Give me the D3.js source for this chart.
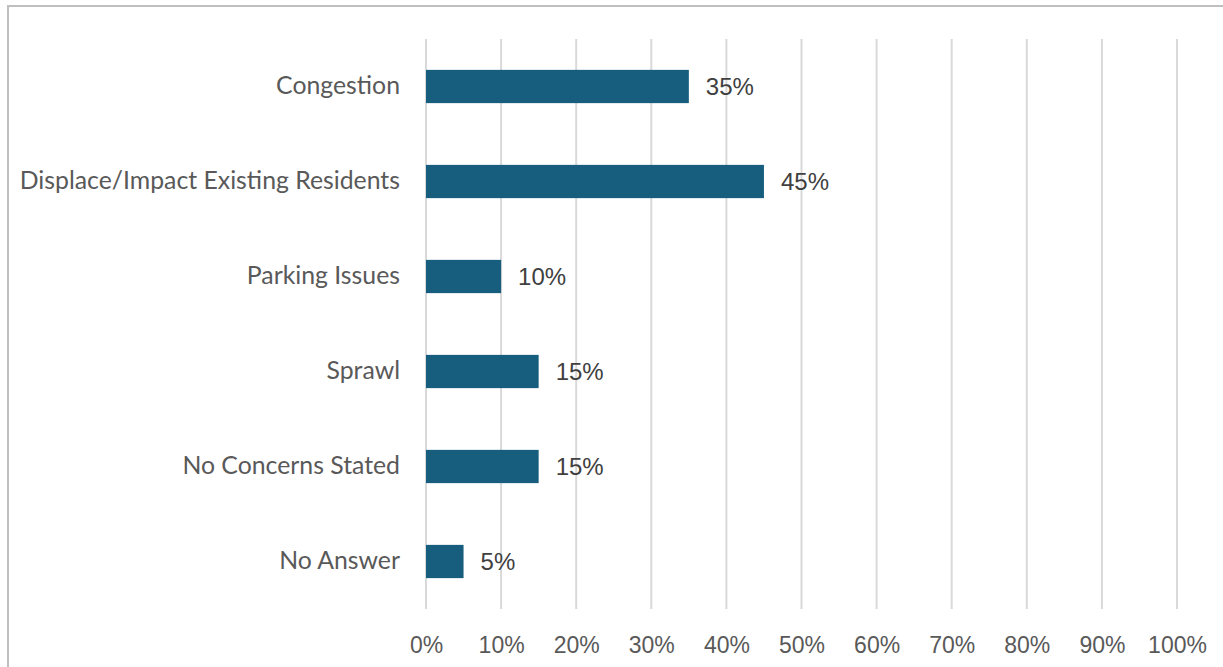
<!DOCTYPE html>
<html>
<head>
<meta charset="utf-8">
<script src="https://cdn.jsdelivr.net/npm/d3@7"></script>
<style>
  body { margin: 0; background: #fff; }
  text { font-family: "Liberation Sans", Arial, sans-serif; }
</style>
</head>
<body>
<svg id="chart" width="1223" height="667"></svg>
<script>
var categories = ["Congestion", "Displace/Impact Existing Residents", "Parking Issues",
                  "Sprawl", "No Concerns Stated", "No Answer"];
var values = [35, 45, 10, 15, 15, 5];
var tickValues = [0, 10, 20, 30, 40, 50, 60, 70, 80, 90, 100];

var svg = d3.select("#chart");

// chart frame (only top and left edge show in the crop)
svg.append("rect")
    .attr("x", 8).attr("y", 6)
    .attr("width", 1240).attr("height", 700)
    .attr("fill", "none")
    .attr("stroke", "#bfbfbf")
    .attr("stroke-width", 2);

var x = d3.scaleLinear().domain([0, 100]).range([426, 1177]);
var y = d3.scaleBand().domain(categories).range([39, 609]).paddingInner(0.65).paddingOuter(0.325);

// gridlines
svg.append("g")
    .selectAll("line")
    .data(tickValues)
    .enter()
    .append("line")
    .attr("x1", function(d) { return x(d); })
    .attr("x2", function(d) { return x(d); })
    .attr("y1", 39)
    .attr("y2", 609)
    .attr("stroke", "#d9d9d9")
    .attr("stroke-width", 2);

// x axis labels
var xAxis = d3.axisBottom(x)
    .tickValues(tickValues)
    .tickSize(0)
    .tickPadding(0)
    .tickFormat(function(d) { return d + "%"; });
var gx = svg.append("g").attr("transform", "translate(0,653)").call(xAxis);
gx.select(".domain").remove();
gx.selectAll("text")
    .attr("dy", 0)
    .attr("y", 0)
    .style("font-family", '"Liberation Sans", Arial, sans-serif')
    .style("font-size", "23px")
    .style("fill", "#595959");

// y axis labels
var yAxis = d3.axisLeft(y).tickSize(0).tickPadding(0);
var gy = svg.append("g").attr("transform", "translate(400,0)").call(yAxis);
gy.select(".domain").remove();
gy.selectAll("text")
    .style("font-family", 'Lato, "Open Sans", sans-serif')
    .style("font-size", "24.8px")
    .style("fill", "#595959");

// bars
svg.append("g")
    .selectAll("rect")
    .data(values)
    .enter()
    .append("rect")
    .attr("x", x(0))
    .attr("y", function(d, i) { return y(categories[i]); })
    .attr("width", function(d) { return x(d) - x(0); })
    .attr("height", y.bandwidth())
    .attr("fill", "#175e7e");

// value labels
svg.append("g")
    .selectAll("text")
    .data(values)
    .enter()
    .append("text")
    .text(function(d) { return d + "%"; })
    .attr("x", function(d) { return x(d) + 17; })
    .attr("y", function(d, i) { return y(categories[i]) + y.bandwidth() / 2; })
    .attr("dy", "0.36em")
    .style("font-size", "24px")
    .style("fill", "#404040");
</script>
</body>
</html>
